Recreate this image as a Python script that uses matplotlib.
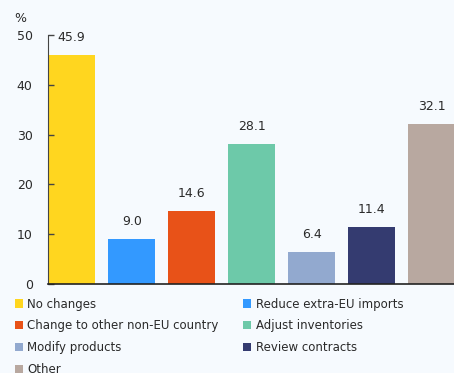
import matplotlib
matplotlib.use("Agg")
import matplotlib.pyplot as plt
from matplotlib.patches import Patch

categories = ['No changes', 'Reduce extra-EU imports', 'Change to other non-EU country',
              'Adjust inventories', 'Modify products', 'Review contracts', 'Other']
values = [45.9, 9.0, 14.6, 28.1, 6.4, 11.4, 32.1]
colors = ['#FFD61F', '#3399FF', '#E85218', '#6DC9A9', '#92A9CF', '#343B70', '#B8A8A0']
yticks = [0, 10, 20, 30, 40, 50]

bg = '#F6FAFE'
txt = '#2a2a2a'
plt.rcParams['font.family'] = 'DejaVu Sans'

fig = plt.figure(figsize=(4.54, 3.73), dpi=100, facecolor=bg)
ax = fig.add_axes([48 / 454, 89 / 373, 406 / 454, 249 / 373], facecolor=bg)

x = list(range(len(values)))
ax.bar(x, values, width=0.79, color=colors)
for xi, v in zip(x, values):
    ax.annotate(f'{v:.1f}', (xi, v), xytext=(0, 11), textcoords='offset pixels',
                ha='center', va='bottom', fontsize=9, color=txt)

ax.set_xlim(-0.395, 6.37)
ax.set_ylim(0, 50)
ax.set_yticks(yticks)
ax.set_xticks([])
ax.tick_params(axis='y', direction='in', length=4, width=1, colors='#444444', labelcolor=txt,
               labelsize=9, pad=11)
for s in ['top', 'right']:
    ax.spines[s].set_visible(False)
ax.spines['left'].set_color('#444444')
ax.spines['bottom'].set_color('#222222')
ax.spines['bottom'].set_linewidth(1.2)
ax.text(14 / 454, 355 / 373, '%', transform=fig.transFigure, fontsize=9, color=txt,
        ha='left', va='center')

# legend is filled row by row in the reference; matplotlib fills columns
order = [0, 2, 4, 6, 1, 3, 5]
handles = [Patch(facecolor=colors[i], edgecolor='none') for i in order]
labels = [categories[i] for i in order]
fig.legend(handles, labels, ncol=2, loc='upper left', bbox_to_anchor=(4 / 454, 1 - 287 / 373),
           frameon=False, fontsize=8.5, handlelength=0.7, handleheight=0.7, handletextpad=0.35,
           columnspacing=2.1, labelspacing=0.75, labelcolor=txt)

fig.savefig('out.png', dpi=100, facecolor=bg)
